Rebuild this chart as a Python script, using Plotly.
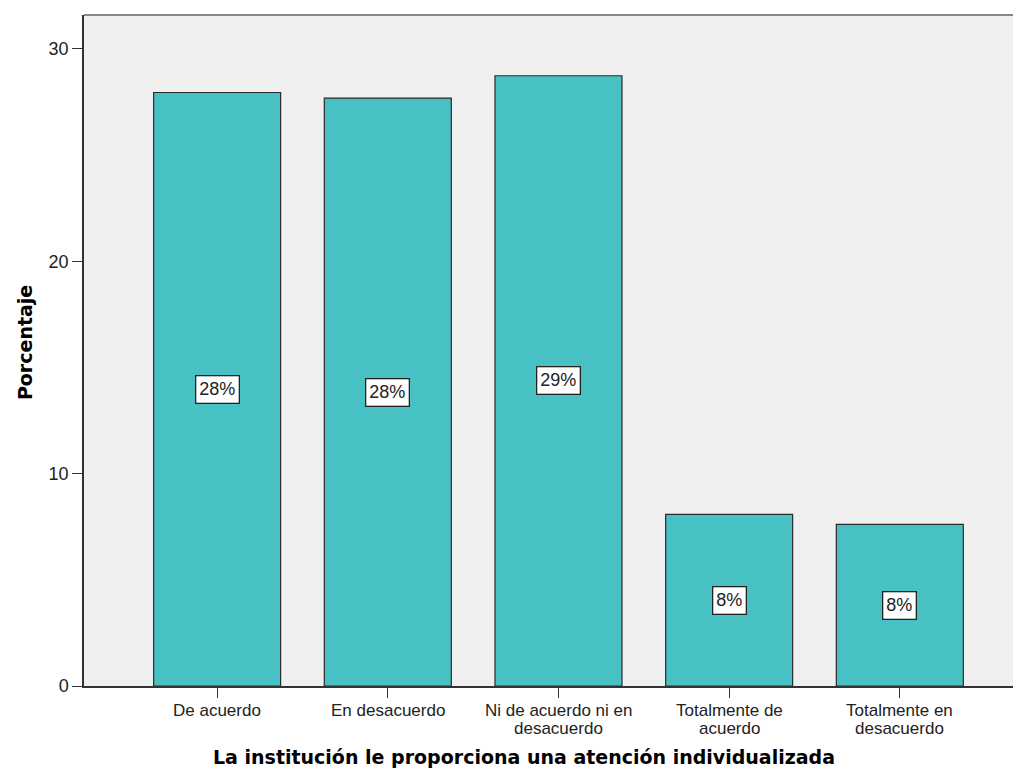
import plotly.graph_objects as go

categories = ["De acuerdo", "En desacuerdo", "Ni de acuerdo ni en<br>desacuerdo",
              "Totalmente de<br>acuerdo", "Totalmente en<br>desacuerdo"]
values = [27.95, 27.69, 28.74, 8.08, 7.61]
labels = ["28%", "28%", "29%", "8%", "8%"]
y_ticks = [0, 10, 20, 30]

x_idx = list(range(len(categories)))
TICK_FONT = dict(family="Liberation Sans, Arial", size=17, color="#222")

fig = go.Figure()
fig.add_trace(go.Bar(
    x=x_idx, y=values, width=0.744,
    marker=dict(color="#48C1C5", line=dict(color="#2a2a2a", width=1.2)),
    hoverinfo="skip", showlegend=False,
))

# value labels
for xi, v, lab in zip(x_idx, values, labels):
    fig.add_annotation(x=xi, y=v / 2, xref="x", yref="y", text=lab, showarrow=False,
                       font=dict(family="Liberation Sans, Arial", size=18, color="#222"),
                       bgcolor="white", bordercolor="#222", borderwidth=1.3, borderpad=3)

# category tick labels (tight line spacing)
for xi, cat in zip(x_idx, categories):
    for li, line in enumerate(cat.split("<br>")):
        fig.add_annotation(x=xi, y=0, xref="x", yref="paper", text=line, showarrow=False,
                           yanchor="middle", yshift=-24 - 18 * li, font=TICK_FONT)

fig.add_annotation(x=0.47, y=0, xref="paper", yref="paper", yanchor="middle", yshift=-71,
                   text="<b>La institución le proporciona una atención individualizada</b>",
                   showarrow=False, font=dict(family="DejaVu Sans", size=19, color="black"))
fig.add_annotation(x=0, y=0.511, xref="paper", yref="paper", textangle=-90, xshift=-72,
                   text="<b>Porcentaje</b>", showarrow=False,
                   font=dict(family="DejaVu Sans", size=19, color="black"))

fig.add_shape(type="line", xref="paper", yref="paper", x0=0, x1=1, y0=1, y1=1,
              line=dict(color="#888", width=2))

fig.update_layout(
    width=1013, height=772,
    margin=dict(l=76, r=0, t=7, b=94),
    paper_bgcolor="white", plot_bgcolor="#F0F0F0",
    xaxis=dict(range=[-0.78, 4.71], tickmode="array", tickvals=x_idx,
               showticklabels=False,
               showline=True, linecolor="#333", linewidth=1.5, ticks="outside",
               ticklen=10, tickcolor="#333", showgrid=False, zeroline=False),
    yaxis=dict(range=[0, 31.6], tickvals=y_ticks, showline=True, linecolor="#333",
               linewidth=1.5, ticks="outside", ticklen=10, tickcolor="#333",
               showgrid=False, zeroline=False,
               tickfont=dict(family="Liberation Sans, Arial", size=18, color="#222")),
)

fig.write_html("out.html")
